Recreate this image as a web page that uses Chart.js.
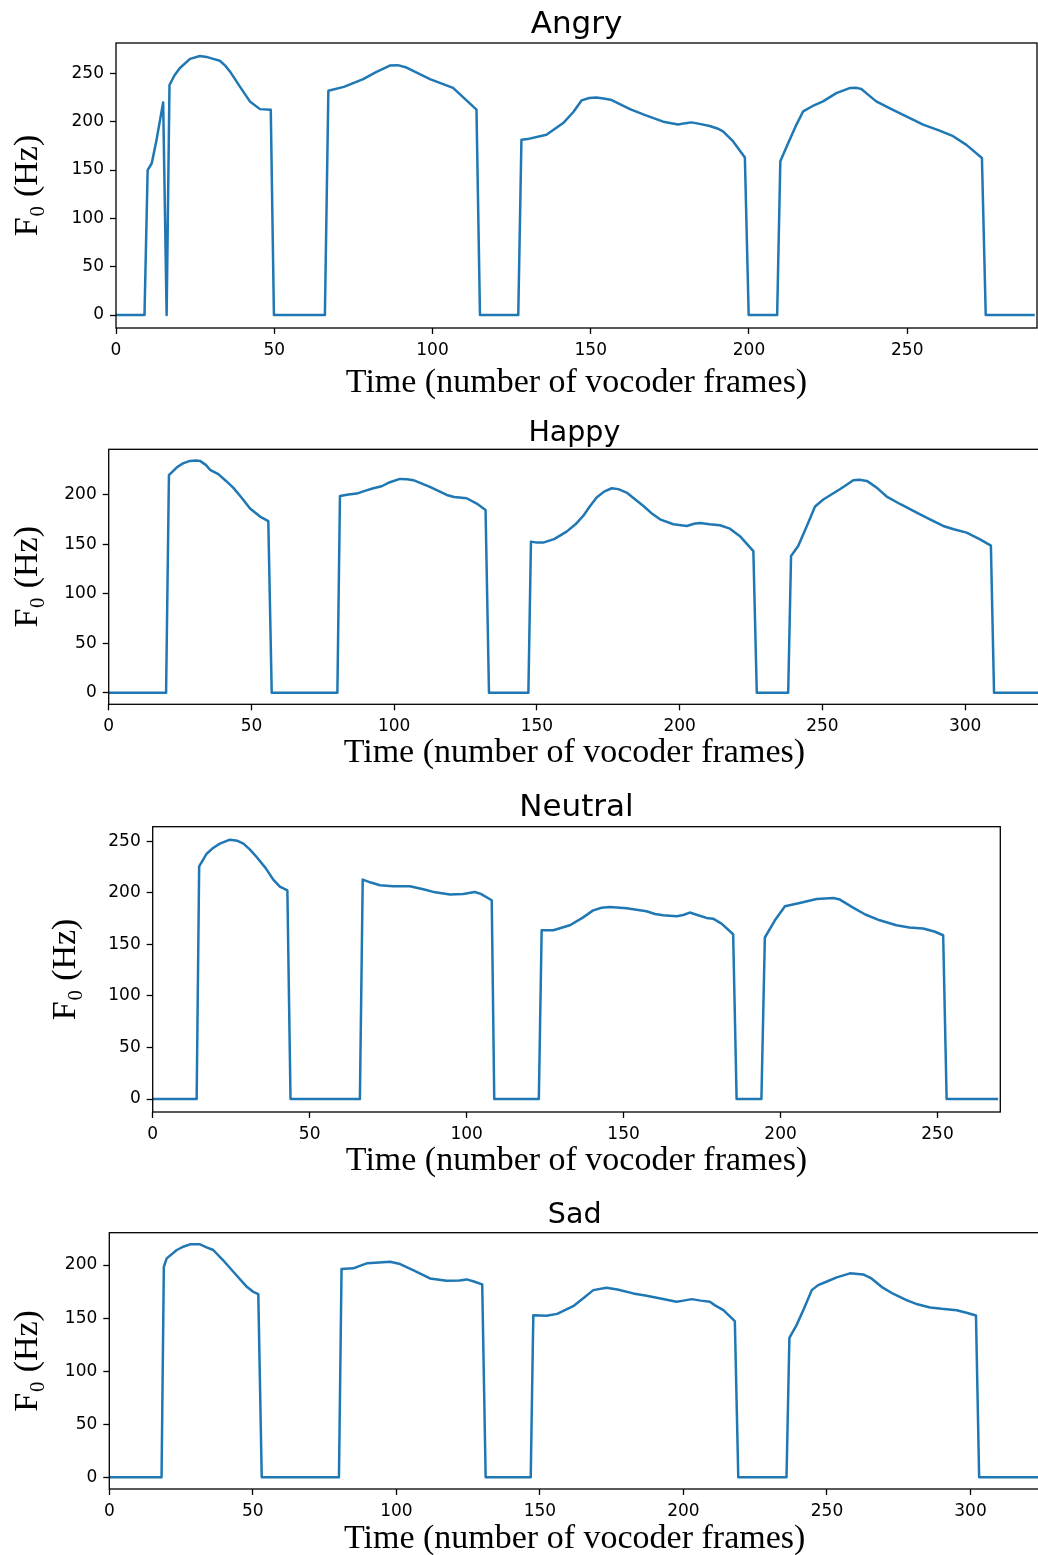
<!DOCTYPE html>
<html><head><meta charset="utf-8">
<script src="https://cdn.jsdelivr.net/npm/chart.js@4.4.1/dist/chart.umd.min.js"></script>
<style>
html,body{margin:0;padding:0;background:#fff;overflow:hidden;width:1038px;height:1555px;}
.panel{position:absolute;left:0;width:1038px;overflow:hidden;}
canvas{display:block;}
</style></head><body>
<div class="panel" style="top:0px;height:400px"><canvas id="c0"></canvas></div>
<div class="panel" style="top:400px;height:375px"><canvas id="c1"></canvas></div>
<div class="panel" style="top:775px;height:405px"><canvas id="c2"></canvas></div>
<div class="panel" style="top:1180px;height:375px"><canvas id="c3"></canvas></div>
<script>
// ---------- data ----------
const titles = ['Angry', 'Happy', 'Neutral', 'Sad'];
const xAxisLabel = 'Time (number of vocoder frames)';
const yAxisLabel = 'F\u2080 (Hz)';

const angryFrames = [0,9,10,11.3,12.8,14.9,16,16.9,18.5,20.2,23.4,26.5,28.6,30.7,32.8,34.5,36,39.2,42.3,45.5,48.9,49.9,66,67.1,72,78.1,82,86.5,89,91.8,99.2,106.5,113.9,115,127.1,128.1,130,136,141.3,144.5,147.1,149.5,151.8,154,156.3,162.4,167,172.9,177.6,180,181.8,184,187.6,190,191.8,195,198.7,199.9,208.9,209.9,212.4,215,217.1,220,223.4,227.6,231.8,234,235.5,238,240.2,245,249.7,255,260,264.5,268.7,273.6,274.8,290.3];
const angryF0 = [0,0,150,157,181,220,0,238,248,255.5,265,268,267,265,263,258,252,236,221,213,212.4,0,0,232,236,244,251,258,258.5,256,244,235,212.4,0,0,181.3,182,186.5,198.6,210,222,224.5,225,224,222.7,213,207,200,197,198.5,199.3,198,195.5,193,190,179.6,163,0,0,159,178,197,210.6,216,221,229.6,234.8,235,233.8,227,221,213,205.4,197,191,185,176,162.4,0,0];

const happyFrames = [0,20.1,21.1,23.8,26,28.5,30.5,32,34,35.5,38.4,41,43.6,46.5,49.5,53,55.9,57.1,80.1,81,84,86.9,90,92.7,95.6,98.5,102,104.5,106.7,112.5,118.4,121,125.4,128.9,132,133.2,147,147.9,150,152.2,156,160.4,163.5,166.2,168.5,170.9,173.5,176.2,178.5,181.4,184,187.3,190,193.1,197.8,202.5,205,207.1,210.5,214.1,217.6,221.1,225.8,227,238,239,241.5,244.5,247.4,250.3,256.1,258.5,260.8,263,265.5,267.5,269,272.5,277.5,283,288,292.3,296,300.5,305.2,309,310.1,326];
const happyF0 = [0,0,219.6,227.3,231.5,234,234.5,234,230,225,220.6,214,207,197,186,177.8,173.3,0,0,198.6,200,201,204,206.4,208.4,212.5,215.8,215.5,214.5,207.7,199.6,197.5,196.3,190.9,184.5,0,0,152.5,151.5,151.5,155,162.6,170,178.4,188,197,203,206.4,205.5,202,196,188.5,181.5,175,170,168.3,170.5,171.2,170,169,165.6,158,143,0,0,138,148,168,187.9,195,205.4,210,214.5,215,213.8,210,207,198,190,181.8,174.5,168.3,165,161.6,154.8,148.4,0,0];

const neutralFrames = [0,14,14.8,17.2,19,21.4,24.6,27,28.9,31,33.1,36,38.4,40.5,42.9,43.9,66,66.9,69.5,72.4,76.6,81.9,86.2,90,94.7,98.9,102.6,104.5,108,108.8,123,123.9,127.6,132.9,137,140.3,143,145.6,151,157.3,160,162.6,166.9,169,171.1,173.5,176.4,178.5,181.2,184.9,186,193.9,195,198.2,201.4,206.1,211.5,216.8,218.9,223.1,227,231.6,236.9,241,245.4,249,251.8,252.9,269.3];
const neutralF0 = [0,0,225.8,238,243,247.8,251.6,250.5,247.8,242,234.8,224,212.9,206,202.5,0,0,212.9,210,207.4,206.4,206.4,203.5,200.5,198.4,199,200.9,199,192.8,0,0,163.8,163.8,168.6,176,183,185.5,186.3,185,182.2,179.5,178.3,177.3,178.5,180.9,178.5,175.7,175,170.2,159.9,0,0,156.7,173.4,187,190.2,194.1,195,193.5,185.7,179,173.4,168.6,166.5,165.4,162.5,158.9,0,0];

const sadFrames = [0,18.2,19,20,23.5,26,28.1,31.6,33.9,36.2,39.5,43.2,47.9,50,51.9,53.1,80,80.9,85,87.5,89.7,94,97.8,101.3,106,111.7,117.5,122,124.5,127,129.9,131.1,146.8,147.7,152.3,156,161.6,165,168.6,173.2,177,182.5,187.2,192,197.6,200,202.9,206,209.2,211,213.9,217.9,219.1,235.9,236.9,239.4,242,244.7,246.9,250,253.4,258,262.6,265.5,269,273,277.7,281.5,285.9,290,295.2,298.6,301.9,303,324];
const sadF0 = [0,0,198.4,206.3,214.2,217.5,219.5,219.5,216.7,214.2,205,193.7,179.5,175,172.6,0,0,196.2,196.9,199.5,201.6,202.5,203.1,201,195,187.4,185.2,185.5,186.5,184.5,181.8,0,0,152.8,152.2,154,161.3,168.5,176.4,178.6,177,173.3,171,168.5,165.4,166.5,167.9,166.5,165.4,162,157.5,147.2,0,0,131.4,143.4,159,176.4,181.1,184.5,188.4,192.2,191.2,187.4,179.5,173,167,163,160.1,158.8,157.5,155,152.5,0,0];

const xTicks250 = [0,50,100,150,200,250];
const xTicks300 = [0,50,100,150,200,250,300];
const yTicks250 = [0,50,100,150,200,250];
const yTicks200 = [0,50,100,150,200];
const xMaxes = [291, 326.2, 270, 324.2];
const yMins = [-13.4, -11.7, -12.6, -11.0];
const yMaxes = [281.4, 245.7, 264.2, 230.5];

// ---------- layout (pixels, per panel) ----------
const layouts = [
  {W:1038,H:400,left:116,  bottom:328,  padRight:1,    titleSize:31,   tTop:5.9,  tBot:-0.1, xtPad:1.7, ytPad:12.7},
  {W:1042,H:375,left:108.7,bottom:304.3,padRight:2,    titleSize:28.5, tTop:16.4, tBot:-1.3, xtPad:6.7, ytPad:12.7},
  {W:1038,H:405,left:152.7,bottom:337,  padRight:37.7, titleSize:31,   tTop:13.9, tBot:0.6,  xtPad:3.7, ytPad:50.7},
  {W:1042,H:375,left:109.3,bottom:309,  padRight:2,    titleSize:28.5, tTop:18.4, tBot:0.1,  xtPad:0.7, ytPad:12.7}
];

const framePlugin = {
  id: 'frame',
  afterDraw(chart) {
    const {ctx, chartArea: a} = chart;
    ctx.save();
    ctx.strokeStyle = '#000';
    ctx.lineWidth = 1.3;
    ctx.strokeRect(a.left, a.top, a.right - a.left, a.bottom - a.top);
    ctx.restore();
  }
};

function makeChart(idx, frames, f0, xTicks, yTicks) {
  const L = layouts[idx];
  const canvas = document.getElementById('c' + idx);
  canvas.width = L.W; canvas.height = L.H;
  canvas.style.width = L.W + 'px'; canvas.style.height = L.H + 'px';
  const pts = frames.map((x, i) => ({x: x, y: f0[i]}));
  const tickFont = {family: 'DejaVu Sans', size: 17};
  return new Chart(canvas, {
    type: 'line',
    data: {datasets: [{data: pts, borderColor: '#1f77b4', borderWidth: 2.5, pointRadius: 0,
      tension: 0, fill: false, borderJoinStyle: 'round'}]},
    options: {
      responsive: false, animation: false, devicePixelRatio: 1,
      layout: {padding: {left: 0, top: 0, right: L.padRight, bottom: 0}},
      plugins: {
        legend: {display: false}, tooltip: {enabled: false},
        title: {display: true, fullSize: false, text: titles[idx], color: '#000',
          font: {family: 'DejaVu Sans', size: L.titleSize, weight: 'normal', lineHeight: 1.2},
          padding: {top: L.tTop, bottom: L.tBot}}
      },
      scales: {
        x: {
          type: 'linear', min: 0, max: xMaxes[idx],
          afterFit(s) { s.height = L.H - L.bottom; },
          afterBuildTicks(s) { s.ticks = xTicks.map(v => ({value: v})); },
          grid: {display: true, drawOnChartArea: false, drawTicks: true, tickLength: 6, tickWidth: 1.3, tickColor: '#000'},
          border: {display: false},
          ticks: {color: '#000', font: tickFont, padding: 6.5, maxRotation: 0, autoSkip: false},
          title: {display: true, text: xAxisLabel, color: '#000',
            font: {family: 'Liberation Serif', size: 34, lineHeight: 0.9},
            padding: {top: 0, bottom: L.xtPad}}
        },
        y: {
          type: 'linear', min: yMins[idx], max: yMaxes[idx],
          afterFit(s) { s.width = L.left; },
          afterBuildTicks(s) { s.ticks = yTicks.map(v => ({value: v})); },
          grid: {display: true, drawOnChartArea: false, drawTicks: true, tickLength: 6, tickWidth: 1.3, tickColor: '#000'},
          border: {display: false},
          ticks: {color: '#000', font: tickFont, padding: 6, autoSkip: false},
          title: {display: true, text: yAxisLabel, color: '#000',
            font: {family: 'Liberation Serif', size: 34, lineHeight: 0.9},
            padding: {top: L.ytPad, bottom: 0}}
        }
      }
    },
    plugins: [framePlugin]
  });
}

makeChart(0, angryFrames, angryF0, xTicks250, yTicks250);
makeChart(1, happyFrames, happyF0, xTicks300, yTicks200);
makeChart(2, neutralFrames, neutralF0, xTicks250, yTicks250);
makeChart(3, sadFrames, sadF0, xTicks300, yTicks200);
</script>
</body></html>
